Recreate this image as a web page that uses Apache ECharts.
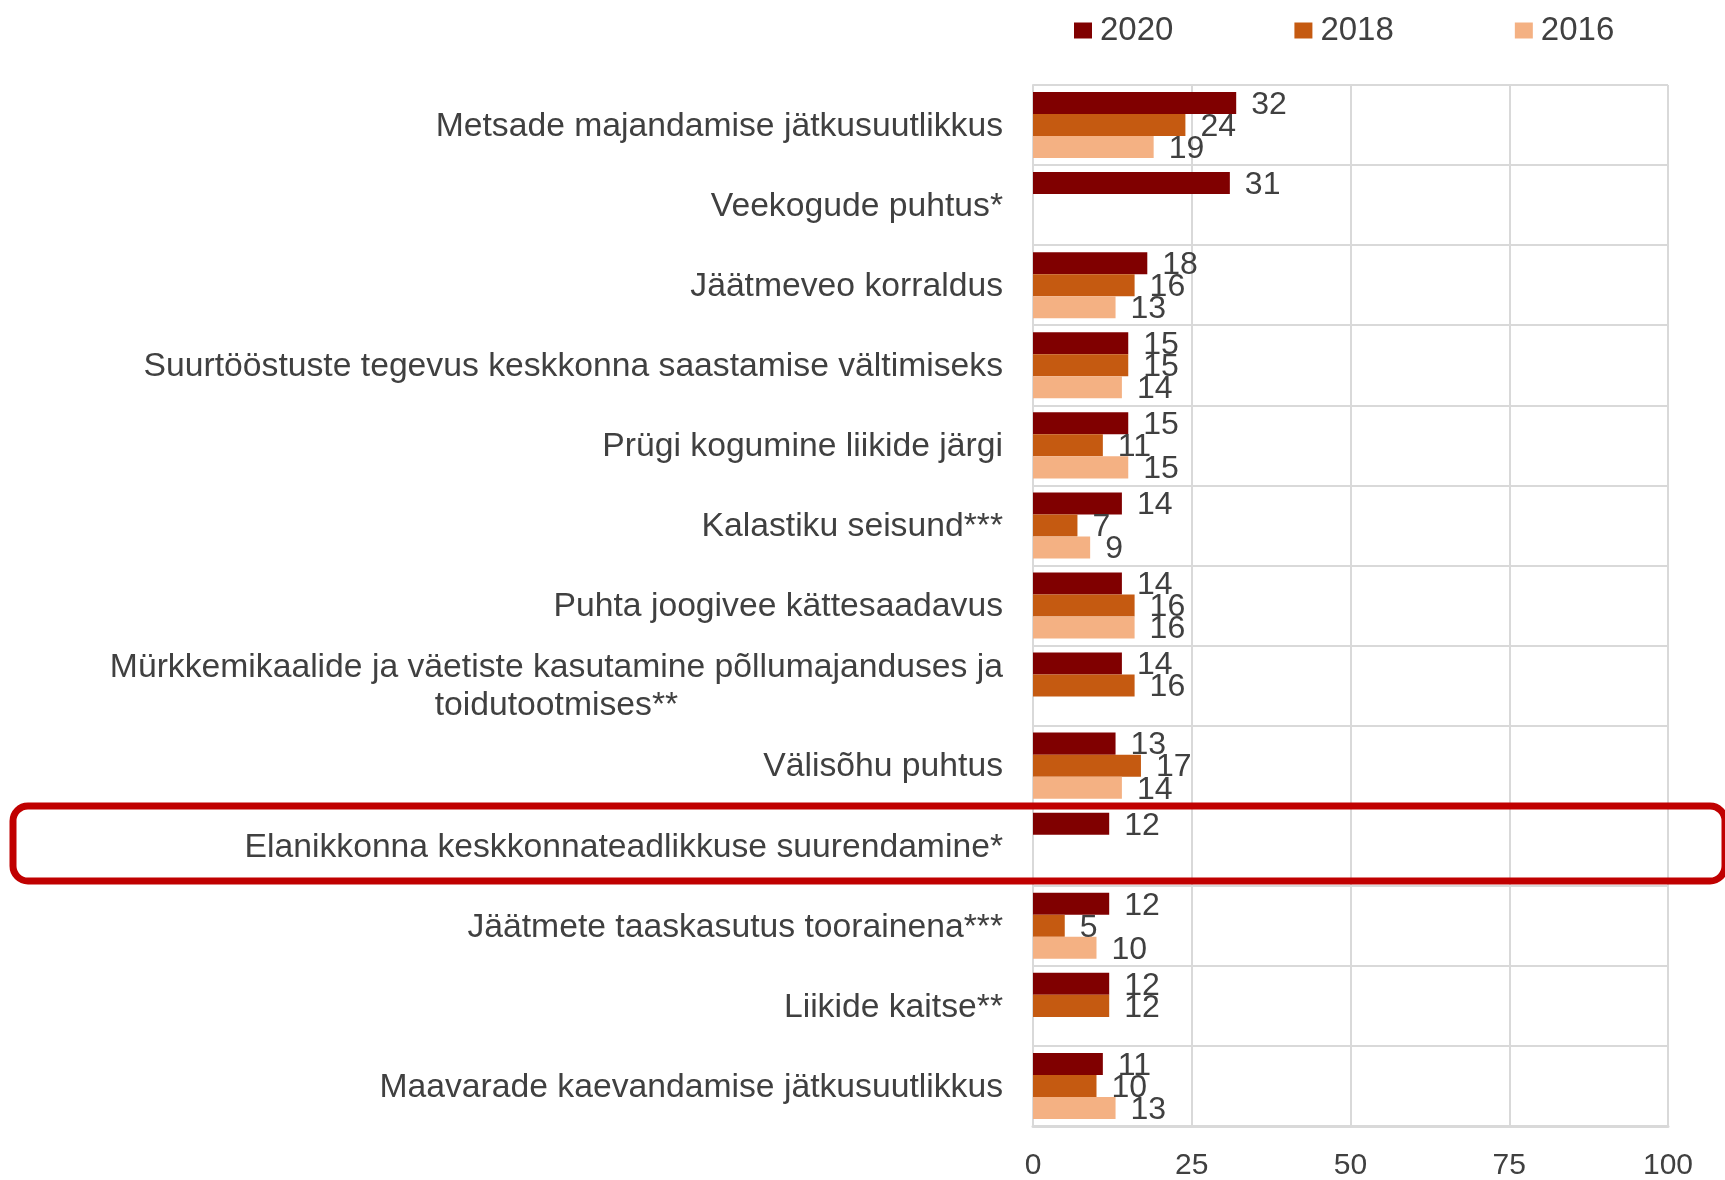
<!DOCTYPE html>
<html>
<head>
<meta charset="utf-8">
<script src="https://cdn.jsdelivr.net/npm/echarts@6/dist/echarts.min.js"></script>
<style>
  html, body { margin: 0; padding: 0; background: #fff; }
  #chart { width: 1725px; height: 1180px; }
</style>
</head>
<body>
<div id="chart"></div>
<script>
// kategooriad (ülevalt alla)
var categories = [
    'Metsade majandamise jätkusuutlikkus',
    'Veekogude puhtus*',
    'Jäätmeveo korraldus',
    'Suurtööstuste tegevus keskkonna saastamise vältimiseks',
    'Prügi kogumine liikide järgi',
    'Kalastiku seisund***',
    'Puhta joogivee kättesaadavus',
    'Mürkkemikaalide ja väetiste kasutamine põllumajanduses ja\ntoidutootmises**',
    'Välisõhu puhtus',
    'Elanikkonna keskkonnateadlikkuse suurendamine*',
    'Jäätmete taaskasutus toorainena***',
    'Liikide kaitse**',
    'Maavarade kaevandamise jätkusuutlikkus'
];
var years = ['2020', '2018', '2016'];
var values2020 = [32, 31, 18, 15, 15, 14, 14, 14, 13, 12, 12, 12, 11];
var values2018 = [24, null, 16, 15, 11, 7, 16, 16, 17, null, 5, 12, 10];
var values2016 = [19, null, 13, 14, 15, 9, 16, null, 14, null, 10, null, 13];
var xTicks = [0, 25, 50, 75, 100];

var colors = ['#800000', '#C55A11', '#F4B183'];
var font = 'Liberation Sans, Arial, sans-serif';
var textColor = '#404040';
var gridColor = '#D9D9D9';

var myChart = echarts.init(document.getElementById('chart'));

function makeSeries(name, data, color) {
    return {
        name: name,
        type: 'bar',
        data: data,
        barGap: '0%',
        barCategoryGap: '17.5%',
        itemStyle: { color: color },
        label: {
            show: true,
            position: 'right',
            distance: 15,
            color: textColor,
            fontSize: 32,
            fontFamily: font,
            offset: [0, 2]
        }
    };
}

var option = {
    animation: false,
    legend: {
        data: years,
        left: 1069,
        top: 9,
        icon: 'rect',
        itemWidth: 18,
        itemHeight: 16,
        itemGap: 121,
        textStyle: { color: textColor, fontSize: 33, fontFamily: font, padding: [0, 0, 0, 3] }
    },
    grid: { left: 1033, right: 57, top: 85, bottom: 54, outerBoundsMode: 'none', containLabel: false },
    xAxis: {
        type: 'value',
        min: xTicks[0],
        max: xTicks[xTicks.length - 1],
        interval: 25,
        axisLine: { show: true, lineStyle: { color: gridColor, width: 3 } },
        axisTick: { show: false },
        splitLine: { lineStyle: { color: gridColor, width: 2 } },
        axisLabel: { color: textColor, fontSize: 30, fontFamily: font, margin: 25 }
    },
    yAxis: {
        type: 'category',
        data: categories,
        inverse: true,
        axisLine: { show: true, lineStyle: { color: gridColor, width: 2 } },
        axisTick: { show: false },
        splitLine: { show: true, interval: 0, lineStyle: { color: gridColor, width: 2 } },
        axisLabel: {
            interval: 0,
            margin: 30,
            align: 'right',
            color: textColor,
            fontSize: 33.7,
            fontFamily: font,
            lineHeight: 38,
            formatter: function (v) {
                return v.split('\n').map(function (s) { return '{c|' + s + '}'; }).join('\n');
            },
            rich: {
                c: { align: 'center', color: textColor, fontSize: 33.7, fontFamily: font, lineHeight: 38, padding: [3, 0, 0, 0] }
            }
        }
    },
    series: [
        makeSeries(years[0], values2020, colors[0]),
        makeSeries(years[1], values2018, colors[1]),
        makeSeries(years[2], values2016, colors[2])
    ],
    graphic: [{
        type: 'rect',
        left: 9.5,
        top: 802.5,
        shape: { width: 1712, height: 75, r: 15 },
        style: { fill: 'none', stroke: '#C00000', lineWidth: 7 },
        z: 100
    }]
};

myChart.setOption(option);
</script>
</body>
</html>
